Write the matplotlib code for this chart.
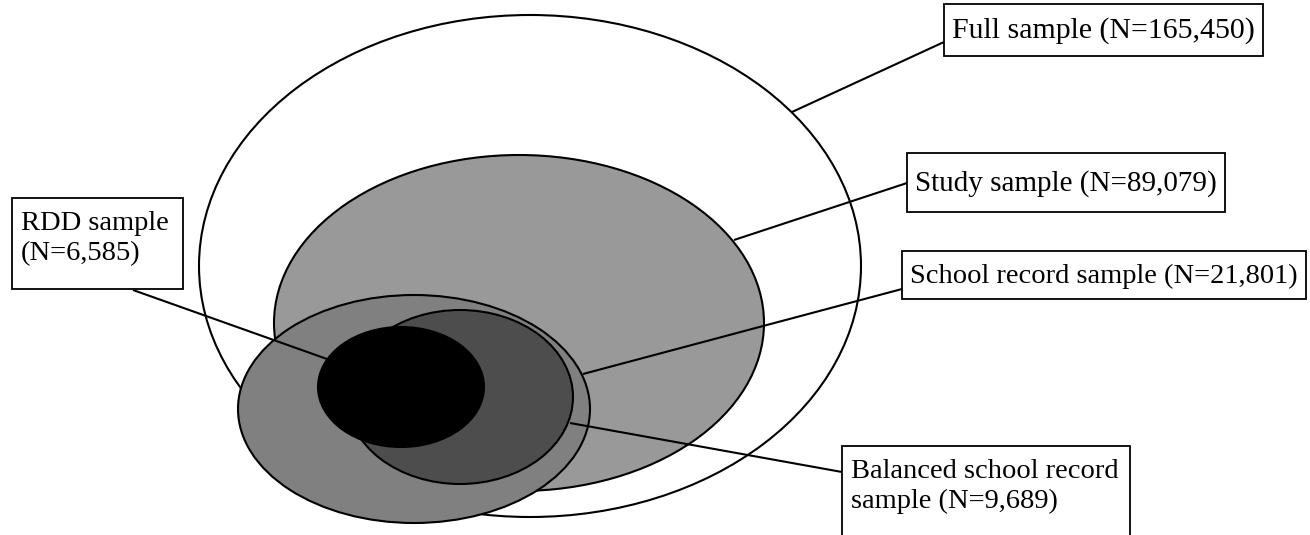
"""Nested sample diagram: full / study / school record / balanced / RDD samples."""

import matplotlib
matplotlib.use("Agg")
import matplotlib.pyplot as plt
from matplotlib.patches import Ellipse, Rectangle

# sample names and sizes
labels = ["Full sample", "Study sample", "School record sample",
          "Balanced school record sample", "RDD sample"]
counts = [165450, 89079, 21801, 9689, 6585]

# ellipse geometry in image pixels (x right, y down)
ell_cx = [530, 519, 414, 460, 401]
ell_cy = [266, 323, 409, 397, 387]
ell_w = [662, 490, 352, 226, 166]
ell_h = [502, 336, 228, 174, 120]
fills = ["white", "#999999", "#808080", "#4d4d4d", "black"]

# leader lines: start (on ellipse) -> end (on label box)
lead_x0 = [792, 734, 583, 570, 327]
lead_y0 = [112, 240, 374, 423, 359]
lead_x1 = [944, 907, 902, 842, 133]
lead_y1 = [42, 183, 289, 472, 290]

# single-line label boxes: left, top, bottom, font size
box_left = [944, 907, 902]
box_top = [4, 153, 251]
box_bot = [56, 212, 299]
box_fs = [21.5, 21, 20.5]

FONT = ["Liberation Serif", "DejaVu Serif"]
FS = 20.5

fig = plt.figure(figsize=(13.1, 5.35), dpi=100)
ax = fig.add_axes([0, 0, 1, 1])
ax.set_xlim(0, 1310)
ax.set_ylim(535, 0)
ax.axis("off")

for i in range(len(labels)):
    ax.add_patch(Ellipse((ell_cx[i], ell_cy[i]), ell_w[i], ell_h[i],
                         facecolor=fills[i], edgecolor="black", lw=1.5, zorder=2 + i))

for i in range(len(labels)):
    ax.plot([lead_x0[i], lead_x1[i]], [lead_y0[i], lead_y1[i]],
            color="black", lw=1.5, zorder=10, solid_capstyle="butt")

renderer = fig.canvas.get_renderer()

# single-line boxes sized to their text
for i in range(3):
    cy = (box_top[i] + box_bot[i]) / 2 + 1
    t = ax.text(box_left[i] + 8, cy, f"{labels[i]} (N={counts[i]:,})",
                fontsize=box_fs[i], family=FONT, ha="left", va="center", zorder=21)
    w = t.get_window_extent(renderer).width
    ax.add_patch(Rectangle((box_left[i], box_top[i]), w + 16, box_bot[i] - box_top[i],
                           facecolor="white", edgecolor="black", lw=1.3, zorder=20))

# RDD box (two lines)
ax.add_patch(Rectangle((12, 198), 171, 91, facecolor="white", edgecolor="black",
                       lw=1.3, zorder=20))
ax.text(21, 230, labels[4], fontsize=FS, family=FONT, ha="left",
        va="baseline", zorder=21)
ax.text(21, 260, f"(N={counts[4]:,})", fontsize=FS, family=FONT, ha="left",
        va="baseline", zorder=21)

# Balanced box (two lines, runs off the bottom edge)
t1 = ax.text(851, 478, "Balanced school record", fontsize=FS, family=FONT,
             ha="left", va="baseline", zorder=21)
ax.text(851, 508, f"sample (N={counts[3]:,})", fontsize=FS, family=FONT,
        ha="left", va="baseline", zorder=21)
w = t1.get_window_extent(renderer).width
ax.add_patch(Rectangle((842, 446), w + 20, 100, facecolor="white", edgecolor="black",
                       lw=1.3, zorder=20))

fig.savefig("out.png", dpi=100)
